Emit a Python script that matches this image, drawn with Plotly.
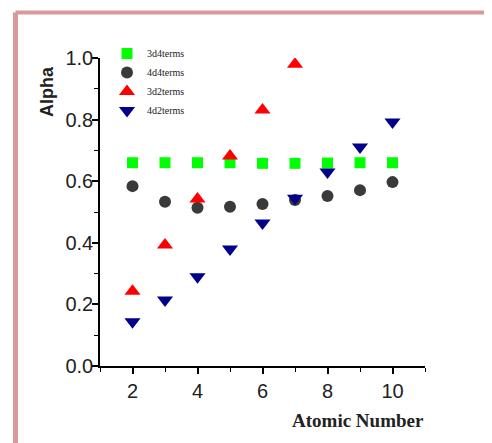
import plotly.graph_objects as go

atomic_number = [2, 3, 4, 5, 6, 7, 8, 9, 10]
atomic_number_3d2 = [2, 3, 4, 5, 6, 7]

alpha_3d4terms = [0.660, 0.660, 0.660, 0.660, 0.658, 0.658, 0.659, 0.660, 0.660]
alpha_4d4terms = [0.584, 0.533, 0.514, 0.517, 0.526, 0.539, 0.552, 0.571, 0.597]
alpha_3d2terms = [0.243, 0.393, 0.542, 0.682, 0.831, 0.980]
alpha_4d2terms = [0.144, 0.214, 0.290, 0.380, 0.464, 0.545, 0.630, 0.711, 0.792]

series_names = ["3d4terms", "4d4terms", "3d2terms", "4d2terms"]

# the page has an 8px body margin; figure sized to fit the window
OFF = 8
W, H = 492 - OFF, 443 - OFF
# plot area in page pixels: x 100..425, y 58..366
L, T = 100 - OFF, 58 - OFF
R, B = W - (425 - OFF), H - (366 - OFF)
pw, ph = W - L - R, H - T - B


def px_x(x):
    return (x - OFF - L) / pw


def px_y(y):
    return (H - B - (y - OFF)) / ph


fig = go.Figure()
fig.add_trace(go.Scatter(x=atomic_number, y=alpha_3d4terms, mode="markers", name=series_names[0],
                         marker=dict(symbol="square", size=11, color="#00ff00")))
fig.add_trace(go.Scatter(x=atomic_number, y=alpha_4d4terms, mode="markers", name=series_names[1],
                         marker=dict(symbol="circle", size=12, color="#3a3a3a")))
fig.add_trace(go.Scatter(x=atomic_number_3d2, y=alpha_3d2terms, mode="markers", name=series_names[2],
                         marker=dict(symbol="triangle-up", size=14, color="#ff0000")))
fig.add_trace(go.Scatter(x=atomic_number, y=alpha_4d2terms, mode="markers", name=series_names[3],
                         marker=dict(symbol="triangle-down", size=14, color="#00008b")))

border = "#d9999b"
shapes = [
    dict(type="line", xref="paper", yref="paper", x0=px_x(15.5), x1=px_x(500),
         y0=px_y(12.5), y1=px_y(12.5), line=dict(color=border, width=4)),
    dict(type="line", xref="paper", yref="paper", x0=px_x(15.5), x1=px_x(15.5),
         y0=px_y(12.5), y1=px_y(450), line=dict(color=border, width=5)),
]

fig.update_layout(
    width=W, height=H,
    margin=dict(l=L, r=R, t=T, b=B),
    paper_bgcolor="white", plot_bgcolor="white",
    showlegend=True,
    legend=dict(x=px_x(107), y=px_y(39), xanchor="left", yanchor="top",
                font=dict(family="Liberation Serif", size=10, color="#222"),
                itemwidth=30, tracegroupgap=0, bgcolor="rgba(0,0,0,0)"),
    shapes=shapes,
    annotations=[
        dict(text="<b>Alpha</b>", xref="paper", yref="paper", x=px_x(47), y=px_y(92),
             textangle=-90, showarrow=False, xanchor="center", yanchor="middle",
             font=dict(family="Liberation Sans", size=18, color="#222")),
        dict(text="<b>Atomic Number</b>", xref="paper", yref="paper", x=px_x(358), y=px_y(420),
             showarrow=False, xanchor="center", yanchor="middle",
             font=dict(family="Liberation Serif", size=19, color="#222")),
    ],
    xaxis=dict(range=[1, 11], tick0=0, dtick=2, showgrid=False, zeroline=False,
               showline=True, linecolor="black", linewidth=1.5,
               ticks="outside", ticklen=6, tickwidth=1.5, tickcolor="black",
               minor=dict(dtick=1, ticks="outside", ticklen=4, tickwidth=1.2, tickcolor="black", showgrid=False),
               tickfont=dict(family="Liberation Sans", size=20, color="#222")),
    yaxis=dict(range=[0, 1.0], tick0=0, dtick=0.2, tickformat=".1f", showgrid=False, zeroline=False,
               showline=True, linecolor="black", linewidth=1.5,
               ticks="outside", ticklen=6, tickwidth=1.5, tickcolor="black",
               ticklabelstandoff=-5,
               minor=dict(dtick=0.1, ticks="outside", ticklen=4, tickwidth=1.2, tickcolor="black", showgrid=False),
               tickfont=dict(family="Liberation Sans", size=20, color="#222")),
)

fig.write_html("out.html")
